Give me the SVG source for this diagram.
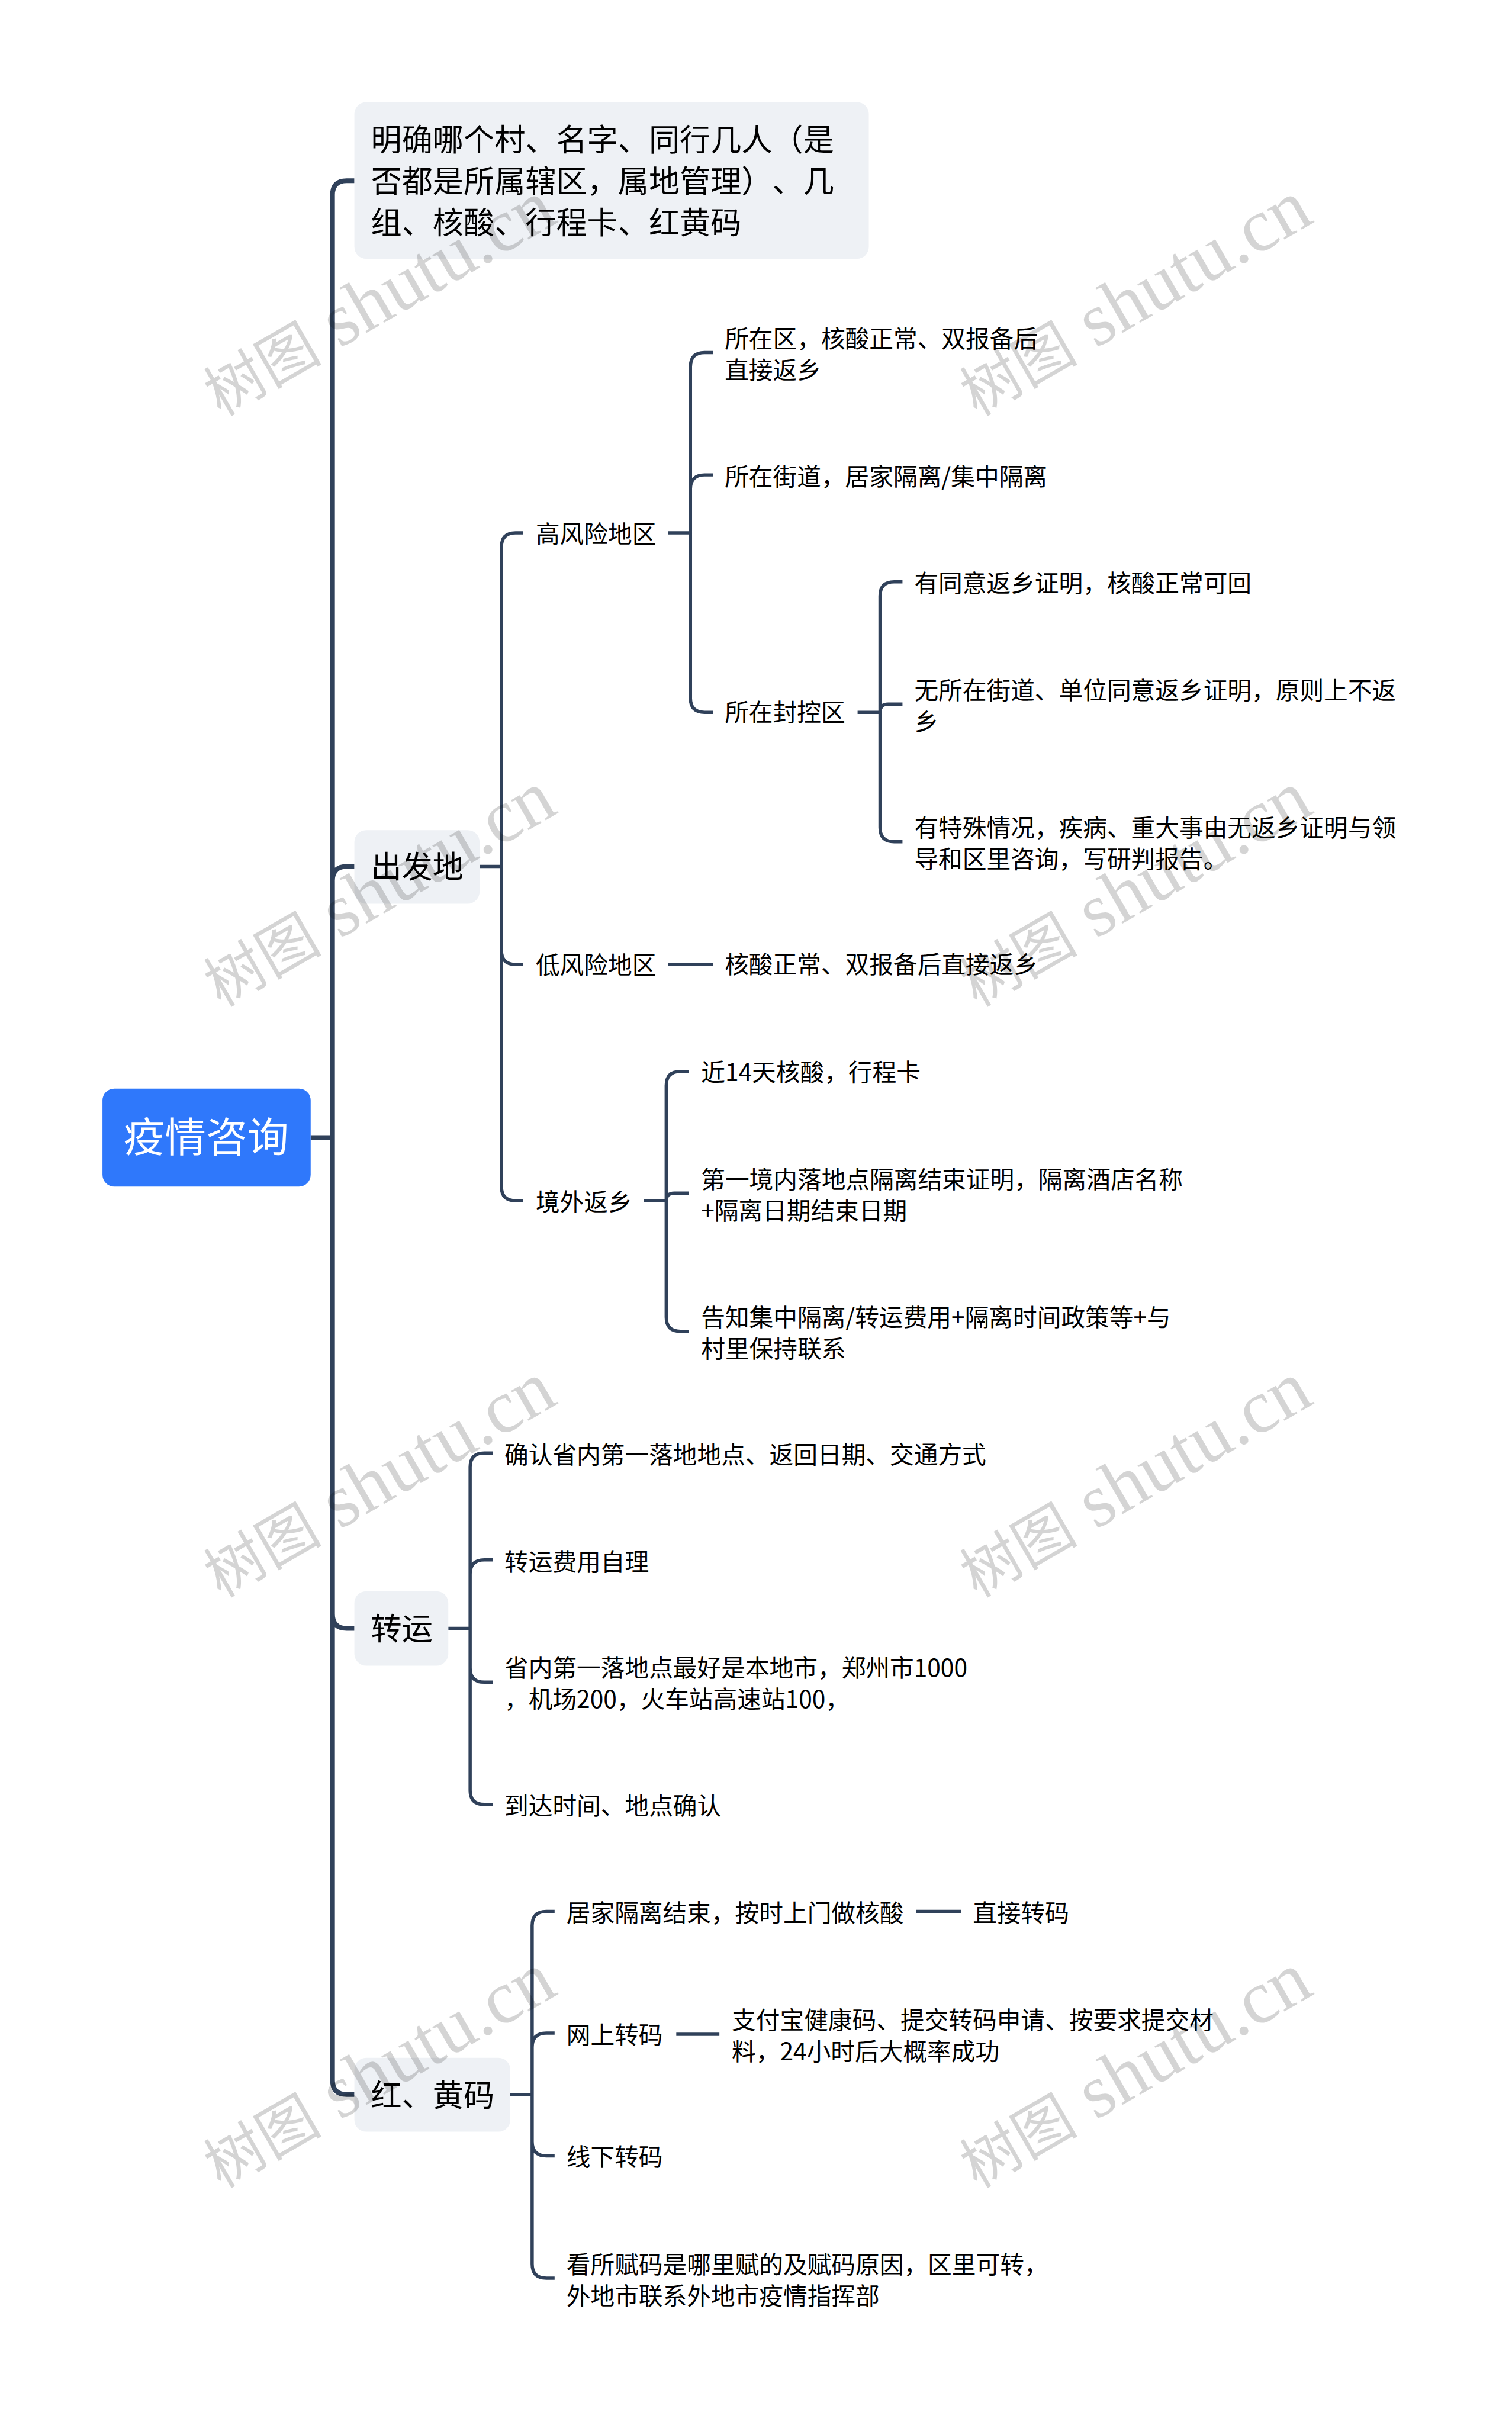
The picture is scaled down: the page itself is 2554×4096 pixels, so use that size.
<svg xmlns="http://www.w3.org/2000/svg" width="2554" height="4096" viewBox="0 0 2554 4096">
<style>
text{font-family:"Noto Sans CJK SC","Noto Sans",sans-serif;fill:#000;text-spacing-trim:space-all}
.t3{font-size:40.800px}
.t2{font-size:52.300px}
.t1{font-size:70px;fill:#fff}
.box{fill:#eef1f5}
.root{fill:#2f78fb}
.c1,.c2{fill:none;stroke:#30415a}
.c1{stroke-width:8}
.c2{stroke-width:5.5}
.wm{font-size:128px;fill:#000;fill-opacity:.17;font-family:"Liberation Serif","Noto Sans CJK SC",serif}
.wm tspan{font-size:100px}
</style>
<defs><text id="w" class="wm"><tspan>树图</tspan> shutu.cn</text></defs>
<rect width="2554" height="4096" fill="#fff"/>
<g transform="scale(0.99766)">
<g id="connectors">
<path class="c1" d="M526 1926H563M600 306H587Q563 306 563 330V3522Q563 3546 587 3546H600M600 1467H587Q563 1467 563 1491M600 2757H587Q563 2757 563 2733"/>
<path class="c2" d="M812 1467H849M886 902H873Q849 902 849 926V2009Q849 2033 873 2033H886M886 1633H873Q849 1633 849 1609"/>
<path class="c2" d="M1131 902H1169M1207 597H1193Q1169 597 1169 621V1182Q1169 1206 1193 1206H1207M1207 804H1193Q1169 804 1169 828"/>
<path class="c2" d="M1452 1206H1490M1528 985H1514Q1490 985 1490 1009V1401Q1490 1425 1514 1425H1528M1528 1192H1504Q1490 1192 1490 1206"/>
<path class="c2" d="M1131 1633H1207"/>
<path class="c2" d="M1090 2033H1128M1166 1814H1152Q1128 1814 1128 1838V2230Q1128 2254 1152 2254H1166M1166 2020H1142Q1128 2020 1128 2033"/>
<path class="c2" d="M759 2757H796M834 2460H820Q796 2460 796 2484V3031Q796 3055 820 3055H834M834 2641H820Q796 2641 796 2665M834 2848H820Q796 2848 796 2824"/>
<path class="c2" d="M864 3546H901M939 3236H925Q901 3236 901 3260V3833Q901 3857 925 3857H939M939 3442H925Q901 3442 901 3466M939 3650H925Q901 3650 901 3626"/>
<path class="c2" d="M1551 3236H1627M1145 3444H1218"/>
</g>
<g id="root"><rect class="root" x="173.500" y="1843" width="352.500" height="166" rx="20"/><text class="t1" x="209" y="1951">疫情咨询</text></g>
<g id="n1"><rect class="box" x="600" y="173" width="871" height="265" rx="20"/><text class="t2" x="628" y="256">明确哪个村、名字、同行几人（是</text><text class="t2" x="628" y="326">否都是所属辖区，属地管理）、几</text><text class="t2" x="628" y="396">组、核酸、行程卡、红黄码</text></g>
<g id="n2"><rect class="box" x="600" y="1405.500" width="212" height="124.500" rx="20"/><text class="t2" x="628" y="1486">出发地</text></g>
<g id="n3"><rect class="box" x="600" y="2694" width="159" height="126" rx="20"/><text class="t2" x="628" y="2776">转运</text></g>
<g id="n4"><rect class="box" x="600" y="3484" width="264" height="125" rx="20"/><text class="t2" x="628" y="3566">红、黄码</text></g>
<g id="n21"><text class="t3" x="907" y="919">高风险地区</text></g>
<g id="n22"><text class="t3" x="907" y="1649">低风险地区</text></g>
<g id="n23"><text class="t3" x="907" y="2050">境外返乡</text></g>
<g id="n211"><text class="t3" x="1227" y="588">所在区，核酸正常、双报备后</text><text class="t3" x="1227" y="641">直接返乡</text></g>
<g id="n212"><text class="t3" x="1227" y="822">所在街道，居家隔离/集中隔离</text></g>
<g id="n213"><text class="t3" x="1227" y="1221">所在封控区</text></g>
<g id="n2131"><text class="t3" x="1548" y="1002">有同意返乡证明，核酸正常可回</text></g>
<g id="n2132"><text class="t3" x="1548" y="1184">无所在街道、单位同意返乡证明，原则上不返</text><text class="t3" x="1548" y="1237">乡</text></g>
<g id="n2133"><text class="t3" x="1548" y="1416">有特殊情况，疾病、重大事由无返乡证明与领</text><text class="t3" x="1548" y="1469">导和区里咨询，写研判报告。</text></g>
<g id="n221"><text class="t3" x="1227" y="1648">核酸正常、双报备后直接返乡</text></g>
<g id="n231"><text class="t3" x="1187" y="1830">近14天核酸，行程卡</text></g>
<g id="n232"><text class="t3" x="1187" y="2012">第一境内落地点隔离结束证明，隔离酒店名称</text><text class="t3" x="1187" y="2065">+隔离日期结束日期</text></g>
<g id="n233"><text class="t3" x="1187" y="2245">告知集中隔离/转运费用+隔离时间政策等+与</text><text class="t3" x="1187" y="2298">村里保持联系</text></g>
<g id="n31"><text class="t3" x="854" y="2478">确认省内第一落地地点、返回日期、交通方式</text></g>
<g id="n32"><text class="t3" x="854" y="2659">转运费用自理</text></g>
<g id="n33"><text class="t3" x="854" y="2839">省内第一落地点最好是本地市，郑州市1000</text><text class="t3" x="854" y="2892">，机场200，火车站高速站100，</text></g>
<g id="n34"><text class="t3" x="854" y="3072">到达时间、地点确认</text></g>
<g id="n41"><text class="t3" x="959" y="3254">居家隔离结束，按时上门做核酸</text></g>
<g id="n411"><text class="t3" x="1647" y="3254">直接转码</text></g>
<g id="n42"><text class="t3" x="959" y="3460">网上转码</text></g>
<g id="n421"><text class="t3" x="1239" y="3435">支付宝健康码、提交转码申请、按要求提交材</text><text class="t3" x="1239" y="3488">料，24小时后大概率成功</text></g>
<g id="n43"><text class="t3" x="959" y="3667">线下转码</text></g>
<g id="n44"><text class="t3" x="959" y="3849">看所赋码是哪里赋的及赋码原因，区里可转，</text><text class="t3" x="959" y="3902">外地市联系外地市疫情指挥部</text></g>
<g id="watermarks">
<use href="#w" transform="translate(374 706) rotate(-30)"/>
<use href="#w" transform="translate(1654 706) rotate(-30)"/>
<use href="#w" transform="translate(374 1706) rotate(-30)"/>
<use href="#w" transform="translate(1654 1706) rotate(-30)"/>
<use href="#w" transform="translate(374 2706) rotate(-30)"/>
<use href="#w" transform="translate(1654 2706) rotate(-30)"/>
<use href="#w" transform="translate(374 3706) rotate(-30)"/>
<use href="#w" transform="translate(1654 3706) rotate(-30)"/>
</g>
</g>
</svg>
